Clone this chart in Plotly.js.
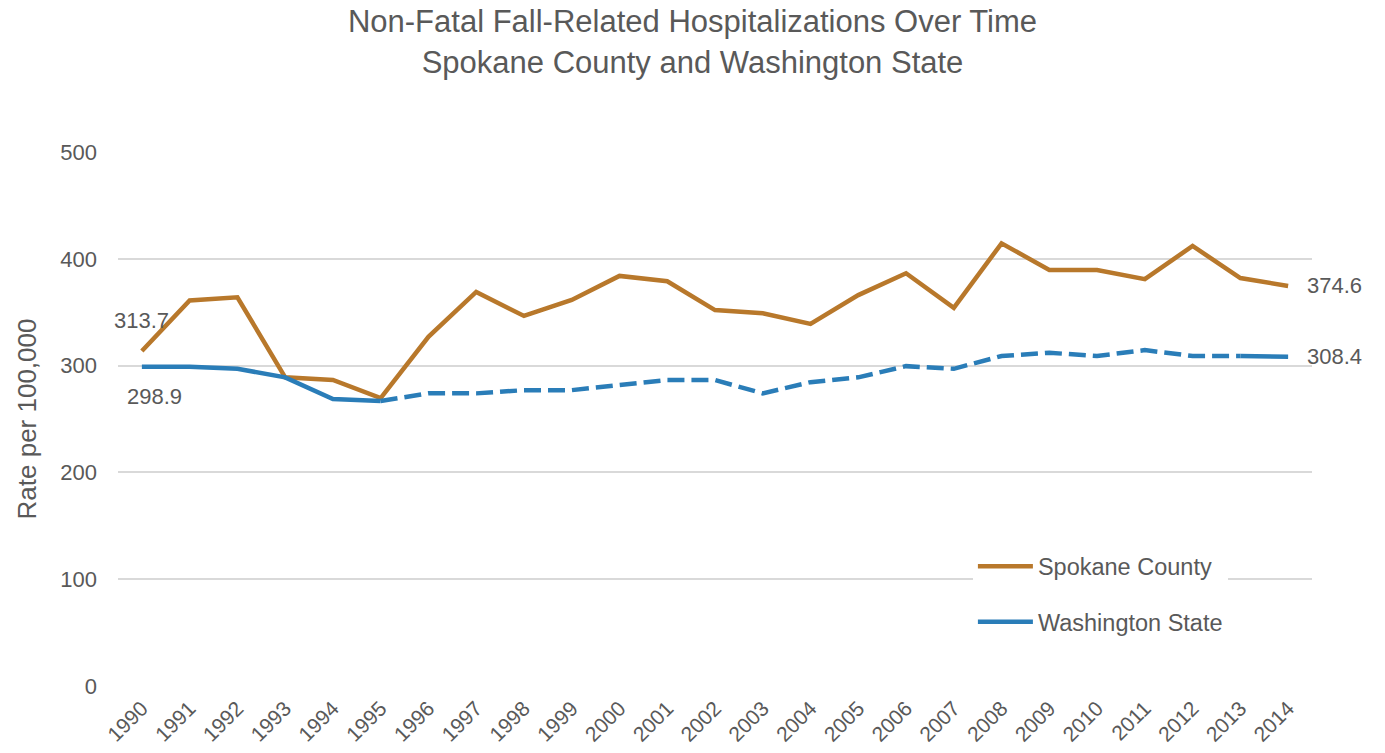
<!DOCTYPE html>
<html>
<head>
<meta charset="utf-8">
<script src="https://cdn.plot.ly/plotly-3.0.1.min.js"></script>
<style>html,body{margin:0;padding:0;background:#fff;}#chart{width:1385px;height:753px;}</style>
</head>
<body>
<div id="chart"></div>
<script>
const years = ["1990","1991","1992","1993","1994","1995","1996","1997","1998","1999","2000","2001","2002","2003","2004","2005","2006","2007","2008","2009","2010","2011","2012","2013","2014"];
const spokane = [313.7,361,364,289,286.5,269.5,327,369,346.5,361.5,384,379,352,349,339,366,386.5,354,414.5,389.5,389.5,381,412,382,374.6];
const washington = [298.9,299,297,289,268.7,266.9,274,274,277,277,282,286.5,286.5,274,284.5,289,299.5,297,309,312,309,314.5,309,309,308.4];
const yTicks = [0,100,200,300,400,500];

const cSpk = '#B8782B';
const cWa = '#2A7DB8';
const txt = '#595959';
const font = 'Liberation Sans, Arial, sans-serif';

const traces = [
  {x: years, y: spokane, type:'scatter', mode:'lines', name:'Spokane County',
   line:{color:cSpk, width:4.5}, legendgroup:'a'},
  {x: years.slice(0,6), y: washington.slice(0,6), type:'scatter', mode:'lines', name:'Washington State',
   line:{color:cWa, width:4.5}, legendgroup:'b'},
  {x: years.slice(5,24), y: washington.slice(5,24), type:'scatter', mode:'lines', showlegend:false,
   line:{color:cWa, width:4.5, dash:'17px,7px'}, legendgroup:'b'},
  {x: years.slice(23), y: washington.slice(23), type:'scatter', mode:'lines', showlegend:false,
   line:{color:cWa, width:4.5}, legendgroup:'b'}
];

const last = years.length - 1;
const annFont = {family: font, size: 22, color: txt};
const annotations = [
  {xref:'x', yref:'y', x: 0, y: spokane[0], text: String(spokane[0]), showarrow:false, xshift:0, yshift:30, font: annFont},
  {xref:'x', yref:'y', x: 0, y: washington[0], text: String(washington[0]), showarrow:false, xshift:13, yshift:-30, font: annFont},
  {xref:'x', yref:'y', x: last, y: spokane[last], text: String(spokane[last]), showarrow:false, xanchor:'left', xshift:17, font: annFont},
  {xref:'x', yref:'y', x: last, y: washington[last], text: String(washington[last]), showarrow:false, xanchor:'left', xshift:17, font: annFont}
];

const layout = {
  width: 1385, height: 753,
  paper_bgcolor:'#fff', plot_bgcolor:'#fff',
  margin:{l:118, r:73, t:152, b:67},
  title:{text:'Non-Fatal Fall-Related Hospitalizations Over Time<br>Spokane County and Washington State',
         font:{family: font, size: 31, color: txt}, x:0.5, xanchor:'center',
         yref:'container', y:0.957, yanchor:'middle'},
  xaxis:{type:'category', range:[-0.5, last + 0.5], autorange:false, showgrid:false, zeroline:false, showline:false, ticks:'',
         tickangle:-45, ticklabelstandoff: 5, tickfont:{family: font, size: 21, color: txt}},
  yaxis:{range:[0,500], autorange:false, tickvals: yTicks, showgrid:true, gridcolor:'#D9D9D9', gridwidth:2,
         zeroline:false, showline:false, ticks:'', ticklabelstandoff: 20,
         tickfont:{family: font, size: 22, color: txt},
         title:{text:'Rate per 100,000', font:{family: font, size: 26, color: txt}, standoff: 16}},
  legend:{x:0.716, y:0.265, xanchor:'left', yanchor:'top', bgcolor:'#fff',
          font:{family: font, size: 23.5, color: txt}, tracegroupgap: 22, itemwidth: 55},
  annotations: annotations,
  showlegend:true
};

Plotly.newPlot('chart', traces, layout, {displayModeBar:false, staticPlot:true});
</script>
</body>
</html>
